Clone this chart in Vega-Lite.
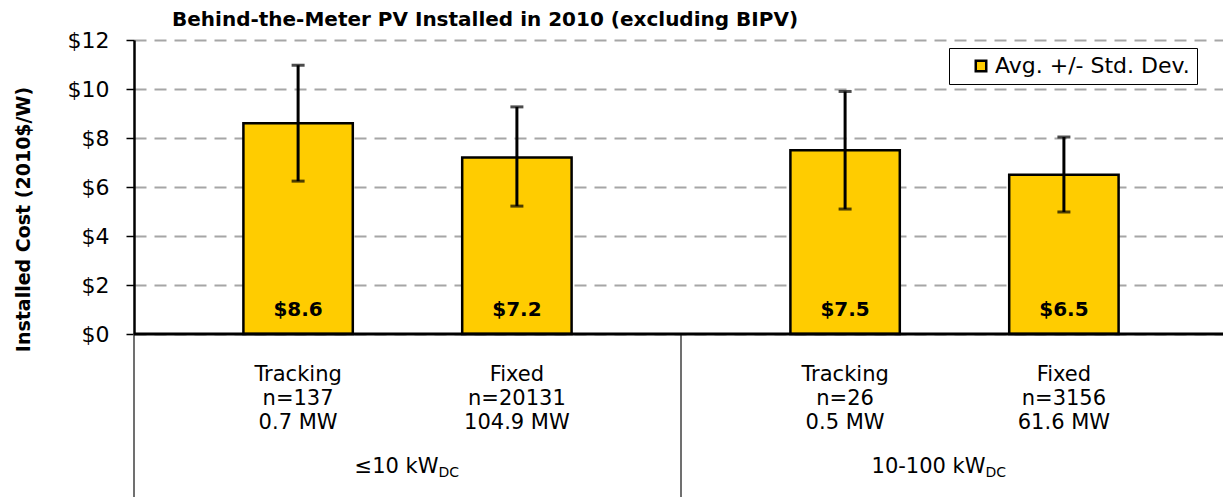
{
  "$schema": "https://vega.github.io/schema/vega-lite/v6.json",
  "width": 1094,
  "height": 294,
  "autosize": {"type": "none"},
  "padding": {"left": 134, "top": 40, "right": 0, "bottom": 163},
  "background": "white",
  "config": {"view": {"stroke": null}, "font": "DejaVu Sans"},
  "title": {
    "text": "Behind-the-Meter  PV Installed in 2010  (excluding BIPV)",
    "anchor": "start", "frame": "group", "dx": 38, "dy": 29, "offset": 12,
    "baseline": "alphabetic", "fontSize": 20, "fontWeight": "bold", "color": "black"
  },
  "datasets": {
    "bars": [
      {"size": "≤10 kW", "type": "Tracking", "avg": 8.6, "lo": 6.24, "hi": 10.97, "label": "Tracking\nn=137\n0.7 MW"},
      {"size": "≤10 kW", "type": "Fixed", "avg": 7.2, "lo": 5.22, "hi": 9.27, "label": "Fixed\nn=20131\n104.9 MW"},
      {"size": "10-100 kW", "type": "Tracking", "avg": 7.5, "lo": 5.1, "hi": 9.9, "label": "Tracking\nn=26\n0.5 MW"},
      {"size": "10-100 kW", "type": "Fixed", "avg": 6.5, "lo": 4.98, "hi": 8.04, "label": "Fixed\nn=3156\n61.6 MW"}
    ],
    "groups": [
      {"size": "≤10 kW", "sub": "DC"},
      {"size": "10-100 kW", "sub": "DC"}
    ]
  },
  "data": {"name": "bars"},
  "layer": [
    {
      "mark": {"type": "bar", "stroke": "black", "strokeWidth": 2.5},
      "encoding": {
        "x": {"field": "size", "type": "nominal", "scale": {"domain": ["≤10 kW", "10-100 kW"], "paddingInner": 0, "paddingOuter": 0}, "axis": null},
        "xOffset": {"field": "type", "type": "nominal", "scale": {"domain": ["Tracking", "Fixed"], "paddingInner": 0.5, "paddingOuter": 0.5}},
        "y": {
          "field": "avg", "type": "quantitative", "scale": {"domain": [0, 12]},
          "axis": {
            "title": "Installed Cost (2010$/W)", "values": [0, 2, 4, 6, 8, 10, 12],
            "labelExpr": "'$' + datum.value", "labelFontSize": 22, "labelColor": "black", "labelPadding": 17,
            "tickSize": 8, "tickColor": "black", "tickWidth": 1.5,
            "domainColor": "black", "domainWidth": 2.5,
            "grid": true, "gridColor": "#a6a6a6", "gridDash": [12, 8], "gridWidth": 2,
            "titleFontSize": 19, "titleFontWeight": "bold", "titleColor": "black",
            "titleX": -111, "titleY": 179, "titleAngle": -90, "titleAlign": "center", "titleBaseline": "middle"
          }
        },
        "color": {
          "datum": "Avg. +/- Std. Dev.", "type": "nominal", "scale": {"range": ["#FFCC00"]},
          "legend": {
            "title": null, "orient": "none", "legendX": 815, "legendY": 8,
            "strokeColor": "black", "fillColor": "white", "padding": 7,
            "symbolType": "square", "symbolSize": 110, "symbolStrokeColor": "black", "symbolStrokeWidth": 2.5,
            "symbolOffset": 14, "labelOffset": 3, "labelLimit": 400, "labelFontSize": 22, "labelColor": "black"
          }
        }
      }
    },
    {
      "mark": {"type": "rule", "color": "black", "strokeWidth": 3},
      "encoding": {
        "x": {"field": "size", "type": "nominal"},
        "xOffset": {"field": "type", "type": "nominal"},
        "y": {"field": "lo", "type": "quantitative"},
        "y2": {"field": "hi"}
      }
    },
    {
      "mark": {"type": "tick", "color": "black", "thickness": 3, "size": 13},
      "encoding": {
        "x": {"field": "size", "type": "nominal"},
        "xOffset": {"field": "type", "type": "nominal"},
        "y": {"field": "hi", "type": "quantitative"}
      }
    },
    {
      "mark": {"type": "tick", "color": "black", "thickness": 3, "size": 13},
      "encoding": {
        "x": {"field": "size", "type": "nominal"},
        "xOffset": {"field": "type", "type": "nominal"},
        "y": {"field": "lo", "type": "quantitative"}
      }
    },
    {
      "mark": {"type": "text", "fontWeight": "bold", "fontSize": 20, "color": "black", "baseline": "middle"},
      "encoding": {
        "x": {"field": "size", "type": "nominal"},
        "xOffset": {"field": "type", "type": "nominal"},
        "y": {"datum": 1},
        "text": {"field": "avg", "type": "quantitative", "format": "$.1f"}
      }
    },
    {
      "mark": {"type": "text", "fontSize": 21, "color": "black", "baseline": "alphabetic", "lineBreak": "\n", "lineHeight": 24},
      "encoding": {
        "x": {"field": "size", "type": "nominal"},
        "xOffset": {"field": "type", "type": "nominal"},
        "y": {"datum": -1.92},
        "text": {"field": "label", "type": "nominal"}
      }
    },
    {
      "data": {"name": "groups"},
      "mark": {"type": "rule", "color": "#404040", "strokeWidth": 1.5},
      "encoding": {
        "x": {"field": "size", "type": "nominal", "bandPosition": 0},
        "y": {"datum": 0},
        "y2": {"datum": -7}
      }
    },
    {
      "data": {"name": "groups"},
      "mark": {"type": "text", "fontSize": 21, "color": "black", "align": "right", "dx": 31, "baseline": "alphabetic"},
      "encoding": {
        "x": {"field": "size", "type": "nominal"},
        "y": {"datum": -5.68},
        "text": {"field": "size", "type": "nominal"}
      }
    },
    {
      "data": {"name": "groups"},
      "mark": {"type": "text", "fontSize": 14, "color": "black", "align": "left", "dx": 31, "dy": 4, "baseline": "alphabetic"},
      "encoding": {
        "x": {"field": "size", "type": "nominal"},
        "y": {"datum": -5.68},
        "text": {"field": "sub", "type": "nominal"}
      }
    },
    {
      "data": {"values": [{}]},
      "mark": {"type": "rule", "color": "black", "strokeWidth": 3},
      "encoding": {"y": {"datum": 0}}
    }
  ]
}
